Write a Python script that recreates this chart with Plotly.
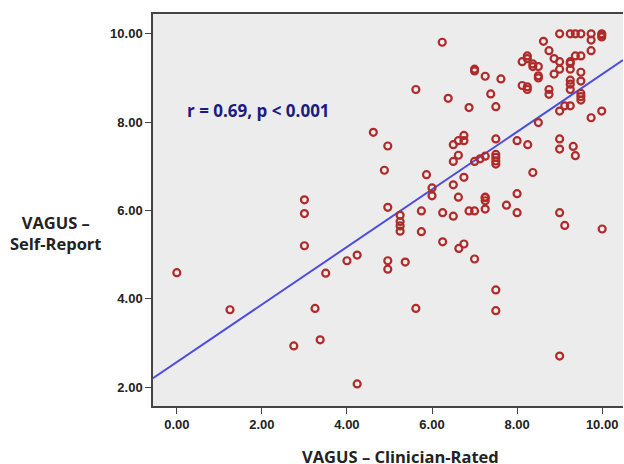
import plotly.graph_objects as go

# Clinician-rated (x) and self-report (y) VAGUS scores
clin = [0.0, 1.25, 2.75, 3.0, 3.0, 3.0, 3.25, 3.37, 3.5, 4.0, 4.24, 4.24,
        4.62, 4.88, 4.96, 4.96, 4.96, 4.96,
        5.25, 5.25, 5.25, 5.25, 5.37, 5.62, 5.62, 5.75, 5.75, 5.87, 6.0, 6.0,
        6.25, 6.25, 6.24, 6.38, 6.5, 6.5, 6.5, 6.5, 6.62, 6.62, 6.62, 6.63,
        6.75, 6.75, 6.75, 6.75, 6.87, 6.87, 7.0, 7.0, 7.0, 7.0, 7.0,
        7.13, 7.25, 7.25, 7.25, 7.25, 7.25, 7.25, 7.38, 7.5, 7.5, 7.5, 7.5,
        7.5, 7.5, 7.5, 7.5, 7.62, 7.75, 8.0, 8.0, 8.0,
        8.12, 8.12, 8.24, 8.24, 8.24, 8.24, 8.25, 8.37, 8.37, 8.37, 8.5, 8.5,
        8.5, 8.5, 8.62, 8.75, 8.75, 8.75, 8.87, 8.87, 9.0, 9.0, 9.0, 9.0,
        9.0, 9.0, 9.0, 9.0, 9.12, 9.12, 9.25, 9.25, 9.25, 9.25, 9.25, 9.25,
        9.25, 9.25, 9.32, 9.37, 9.37, 9.37, 9.5, 9.5, 9.5, 9.5, 9.5, 9.5,
        9.5, 9.74, 9.74, 9.74, 9.74, 9.99, 9.99, 9.99, 9.99, 10.0]
self_rep = [4.59, 3.75, 2.93, 6.24, 5.93, 5.20, 3.78, 3.07, 4.58, 4.86, 4.99, 2.07,
            7.77, 6.91, 7.46, 6.07, 4.86, 4.67,
            5.89, 5.75, 5.65, 5.53, 4.83, 8.74, 3.78, 5.99, 5.52, 6.81, 6.51, 6.33,
            5.95, 5.29, 9.81, 8.54, 7.49, 7.11, 6.58, 5.87, 7.58, 7.25, 6.30, 5.14,
            7.58, 7.70, 6.75, 5.24, 8.33, 5.99, 9.20, 9.16, 7.11, 5.99, 4.90,
            7.17, 9.04, 7.23, 6.30, 6.29, 6.22, 6.03, 8.64, 8.35, 7.62, 7.27,
            7.20, 7.12, 7.05, 4.20, 3.73, 8.98, 6.12, 7.58, 6.38, 5.95,
            9.37, 8.83, 9.50, 9.44, 8.80, 8.74, 7.49, 9.32, 9.26, 6.86, 9.26, 9.05,
            9.00, 7.99, 9.83, 9.62, 8.74, 8.63, 9.09, 9.44, 10.0, 9.20, 9.37, 8.25,
            7.62, 7.39, 5.95, 2.70, 8.37, 5.66, 10.0, 9.37, 9.33, 9.20, 8.95, 8.86,
            8.74, 8.37, 7.45, 10.0, 9.50, 7.24, 10.0, 9.50, 9.13, 8.93, 8.65, 8.58,
            8.50, 10.0, 9.86, 9.62, 8.10, 10.0, 9.97, 9.93, 8.25, 5.58]

# Fit line (intercept, slope) as shown
fit_intercept = 2.565
fit_slope = 0.652
x_range = [-0.56, 10.49]
y_range = [1.57, 10.45]
tick_vals = [0, 2, 4, 6, 8, 10]
tick_text = ["0.00", "2.00", "4.00", "6.00", "8.00", "10.00"]
annotation_text = "r = 0.69, p < 0.001"
y_title = "VAGUS –<br>Self-Report"
x_title = "VAGUS – Clinician-Rated"

fig = go.Figure()
fig.add_trace(go.Scatter(
    x=x_range, y=[fit_intercept + fit_slope * v for v in x_range],
    mode="lines", line=dict(color="#4c4ce0", width=2), hoverinfo="skip",
    showlegend=False))
fig.add_trace(go.Scatter(
    x=clin, y=self_rep, mode="markers",
    marker=dict(symbol="circle-open", size=7, color="#b02a2a",
                line=dict(width=2.2, color="#b02a2a")),
    showlegend=False))

tickfont = dict(family="Liberation Sans", size=13, color="#222222", weight="bold")
title_font = dict(family="Open Sans", size=16.5, color="#222222", weight="bold")
fig.update_layout(
    width=624, height=464,
    margin=dict(l=153, r=1, t=14, b=58, autoexpand=False),
    paper_bgcolor="white", plot_bgcolor="#ececec",
    xaxis=dict(range=x_range, tickvals=tick_vals, ticktext=tick_text,
               showgrid=False, zeroline=False, showline=True, linecolor="#444",
               linewidth=1.5, mirror=True, ticks="outside", ticklen=6,
               tickcolor="#444", tickfont=tickfont, automargin=False),
    yaxis=dict(range=y_range, tickvals=tick_vals, ticktext=tick_text,
               showgrid=False, zeroline=False, showline=True, linecolor="#444",
               linewidth=1.5, ticks="outside", ticklen=6, tickcolor="#444",
               tickfont=tickfont, automargin=False),
    annotations=[
        dict(text=annotation_text, x=0.19, y=8.27, xref="x", yref="y",
             xanchor="left", yanchor="middle", showarrow=False,
             font=dict(family="Open Sans", size=17, color="#1c1c80",
                       weight="bold")),
        dict(text=y_title, x=-0.206, y=0.441, xref="paper",
             yref="paper", showarrow=False, align="center",
             xanchor="center", yanchor="middle", font=title_font),
        dict(text=x_title, x=0.526, y=-0.128, xref="paper",
             yref="paper", showarrow=False, xanchor="center",
             yanchor="middle", font=title_font),
    ],
)
fig.write_html(
    "out.html",
    config={"displayModeBar": False},
    post_script="document.body.style.margin='0';"
                "document.body.style.overflow='hidden';",
)
